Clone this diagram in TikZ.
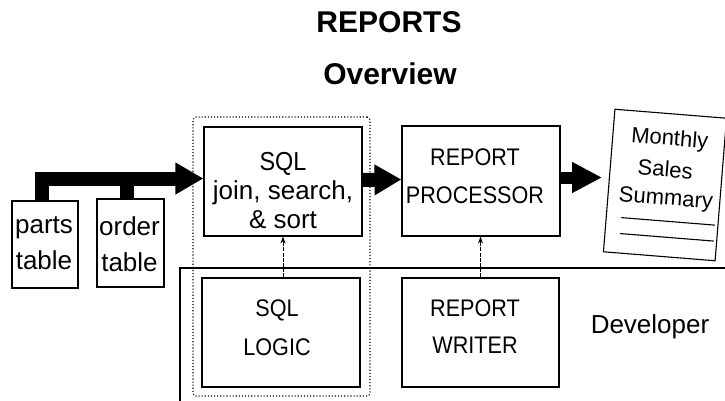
\documentclass[tikz,border=0pt]{standalone}
\usepackage{fontspec}
\setmainfont{Liberation Sans}
\newfontfamily\capsface[FakeStretch=0.9]{Liberation Sans}
\usetikzlibrary{arrows.meta}
\begin{document}
\begin{tikzpicture}[x=1pt,y=-1pt,
  box/.style={draw, line width=1.1pt, inner sep=0pt},
  txt/.style={inner sep=0pt, align=center},
  fat/.style={line width=#1, line join=miter},
  fat/.default=14pt,
  thin arrow/.style={line width=0.9pt, dash pattern=on 4pt off 1.2pt,
    -{Stealth[length=7pt,width=5pt]}},
]
\useasboundingbox (0,0) rectangle (725,401);

% title
\node[anchor=base, font=\bfseries\fontsize{30}{30}\selectfont] (title) at (389,33) {REPORTS};
\node[anchor=base, font=\bfseries\fontsize{30}{30}\selectfont] (subtitle) at (390,85) {Overview};

% developer area
\coordinate (dev-bottom) at (180,401);
\coordinate (dev-corner) at (180,268);
\coordinate (dev-right) at (725,268);
\draw[line width=1.1pt] (dev-bottom) -- (dev-corner) -- (dev-right);
\node[anchor=base, font=\fontsize{26}{26}\selectfont] (developer) at (650,333) {Developer};

% SQL group outline
\node[draw, dotted, line width=1.1pt, rounded corners=3pt, minimum width=177pt,
  minimum height=279pt, inner sep=0pt] (sqlgroup) at (281.5,256.5) {};

% input tables
\node[box, minimum width=66pt, minimum height=87pt] (parts) at (45,244.5) {};
\node[txt, font=\fontsize{26}{36}\selectfont] (partstxt) at (44,243) {parts\\table};
\node[box, minimum width=67pt, minimum height=88pt] (order) at (130.5,243) {};
\node[txt, font=\fontsize{26}{36}\selectfont] (ordertxt) at (129.5,244) {order\\table};

% processing boxes
\node[box, minimum width=158pt, minimum height=109pt] (sql) at (283,181.5) {};
\node[txt, font=\fontsize{26}{29}\selectfont] (sqltxt) at (283,191) {{\capsface SQL}\\join, search,\\\& sort};
\node[box, minimum width=158pt, minimum height=110pt] (proc) at (481,181) {};
\node[txt, font=\capsface\fontsize{24}{38}\selectfont] (proctxt) at (475,176) {REPORT\\PROCESSOR};
\node[box, minimum width=158pt, minimum height=109pt] (logic) at (281,332.5) {};
\node[txt, font=\capsface\fontsize{24}{39}\selectfont] (logictxt) at (277,327.5) {SQL\\LOGIC};
\node[box, minimum width=157pt, minimum height=109pt] (writer) at (480.5,332.5) {};
\node[txt, font=\capsface\fontsize{24}{37}\selectfont] (writertxt) at (475,326.5) {REPORT\\WRITER};

% printed report page, slightly askew
\begin{scope}[shift={(665,185)}, rotate=-4.6, transform shape]
  \node[box, minimum width=112pt, minimum height=143pt] (report) at (0,0) {};
  \begin{scope}[font=\fontsize{22}{22}\selectfont]
    \node[anchor=base, inner sep=0pt] (rep1) at (1,-40) {Monthly};
    \node[anchor=base, inner sep=0pt] (rep2) at (-1,-8) {Sales};
    \node[anchor=base, inner sep=0pt] (rep3) at (2,20) {Summary};
  \end{scope}
  \coordinate (rule1a) at (-41,36);
  \coordinate (rule1b) at (53,36);
  \coordinate (rule2a) at (-41,52);
  \coordinate (rule2b) at (53,52);
  \draw[line width=1.1pt] (rule1a) -- (rule1b);
  \draw[line width=1.1pt] (rule2a) -- (rule2b);
\end{scope}

% data flow
\coordinate (feed) at ([yshift=3pt]sql.west);
\draw[fat, -{Triangle[length=28pt,width=30pt]}] ([xshift=-3.5pt]parts.north) |- (feed);
\draw[fat] ([xshift=-3.5pt]order.north) -- ([xshift=-3.5pt]order.north |- feed);
\coordinate (out1) at ([yshift=1.5pt]sql.east);
\coordinate (in2) at ([yshift=1.5pt]proc.west);
\draw[fat, -{Triangle[length=27pt,width=29pt]}] (out1) -- (in2);
\coordinate (out2) at ([yshift=3.5pt]proc.east);
\coordinate (in3) at (602,177.5);
\draw[fat=12pt, -{Triangle[length=30pt,width=29pt]}] (out2) -- (in3);

% control links
\draw[thin arrow] (logic.north -| sql.south) -- (sql.south);
\draw[thin arrow] (writer.north) -- (writer.north |- proc.south);
\end{tikzpicture}
\end{document}
